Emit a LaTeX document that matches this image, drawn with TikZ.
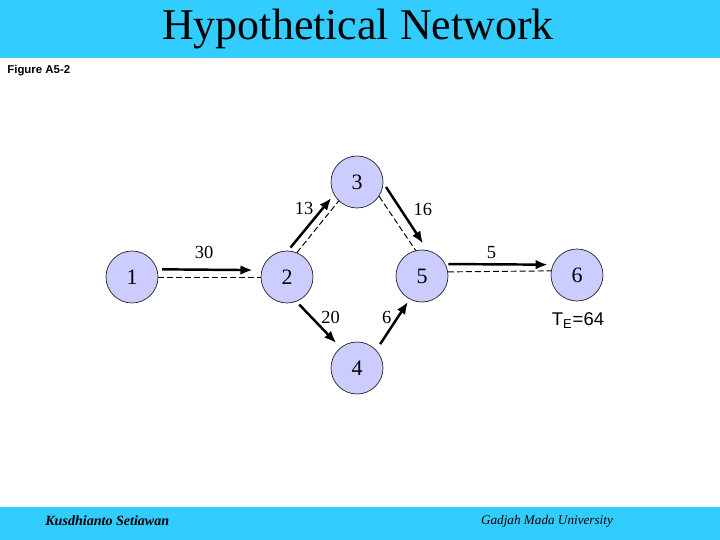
\documentclass[tikz,border=0pt]{standalone}
\usepackage{fontspec}
\setmainfont{Liberation Serif}
\setsansfont{Liberation Sans}
\usetikzlibrary{arrows.meta,positioning,calc}
\definecolor{BarCyan}{RGB}{51,204,255}
\definecolor{EventFill}{RGB}{204,204,255}

\begin{document}
\begin{tikzpicture}[x=0.02cm,y=-0.02cm,>={Latex[length=7pt,width=5.5pt]},
  event/.style={circle,draw=black!85,fill=EventFill,minimum size=1.04cm,inner sep=0pt,font=\fontsize{12.5}{14}\selectfont},
  act/.style={->,line width=1.4pt},
  crit/.style={line width=0.55pt,dash pattern=on 3.4pt off 1.7pt},
  lbl/.style={font=\fontsize{10.5}{12}\selectfont,inner sep=1.5pt}]
  \useasboundingbox (0,0) rectangle (720,540);
  \fill[BarCyan] (0,0) rectangle (720,58);
  \fill[BarCyan] (0,507) rectangle (720,540);
  \node[anchor=base,inner sep=0pt,font=\fontsize{25}{29}\selectfont] (title) at (358,40) {Hypothetical Network};
  \node[anchor=base west,inner sep=0pt,font=\fontsize{6.5}{8}\selectfont\sffamily\bfseries] (fig) at (7,74) {Figure A5-2};

  \node[event] (n1) at (132,277) {1};
  \node[event] (n2) at (287,277) {2};
  \node[event] (n3) at (357,182) {3};
  \node[event] (n4) at (357,368) {4};
  \node[event] (n5) at (422,276) {5};
  \node[event] (n6) at (577,275) {6};

  \draw[crit] (n1) -- (n2);
  \draw[crit] (n2.68) -- (n3.226);
  \draw[crit] (n3.327) -- (n5.104);
  \draw[crit] (n5.9) -- (n6.171);

  \draw[act,shorten <=2.8pt,shorten >=5pt] (n1.17) -- node[lbl,above=4pt,pos=.45] {30} (n2.165);
  \draw[act,shorten <=2.3pt,shorten >=2.3pt] (n2.88) -- node[lbl,left=3pt,pos=.75] {13} (n3.209);
  \draw[act,shorten <=2.8pt,shorten >=4.5pt] (n3.358) -- node[lbl,right=5pt,pos=.4] {16} (n5.78);
  \draw[act,shorten <=1.7pt,shorten >=2.8pt] (n5.27) -- node[lbl,above=1pt,pos=.43] {5} (n6.157);
  \draw[act,shorten <=2.3pt,shorten >=3.4pt] (n2.291) -- node[lbl,right=3.5pt,pos=.34] {20} (n4.129);
  \draw[act,shorten <=4pt,shorten >=1.7pt] (n4.43) -- node[lbl,left=1.5pt,pos=.65] {6} (n5.242);

  \node[anchor=base,inner sep=0pt,font=\fontsize{10.5}{12}\selectfont\sffamily] (te) at (578,326) {T\textsubscript{E}=64};

  \node[anchor=base west,inner sep=0pt,font=\fontsize{8}{10}\selectfont\bfseries\itshape] (author) at (45,525) {Kusdhianto Setiawan};
  \node[anchor=base,inner sep=0pt,font=\fontsize{7.5}{9}\selectfont\itshape] (univ) at (547,524) {Gadjah Mada University};
\end{tikzpicture}
\end{document}
